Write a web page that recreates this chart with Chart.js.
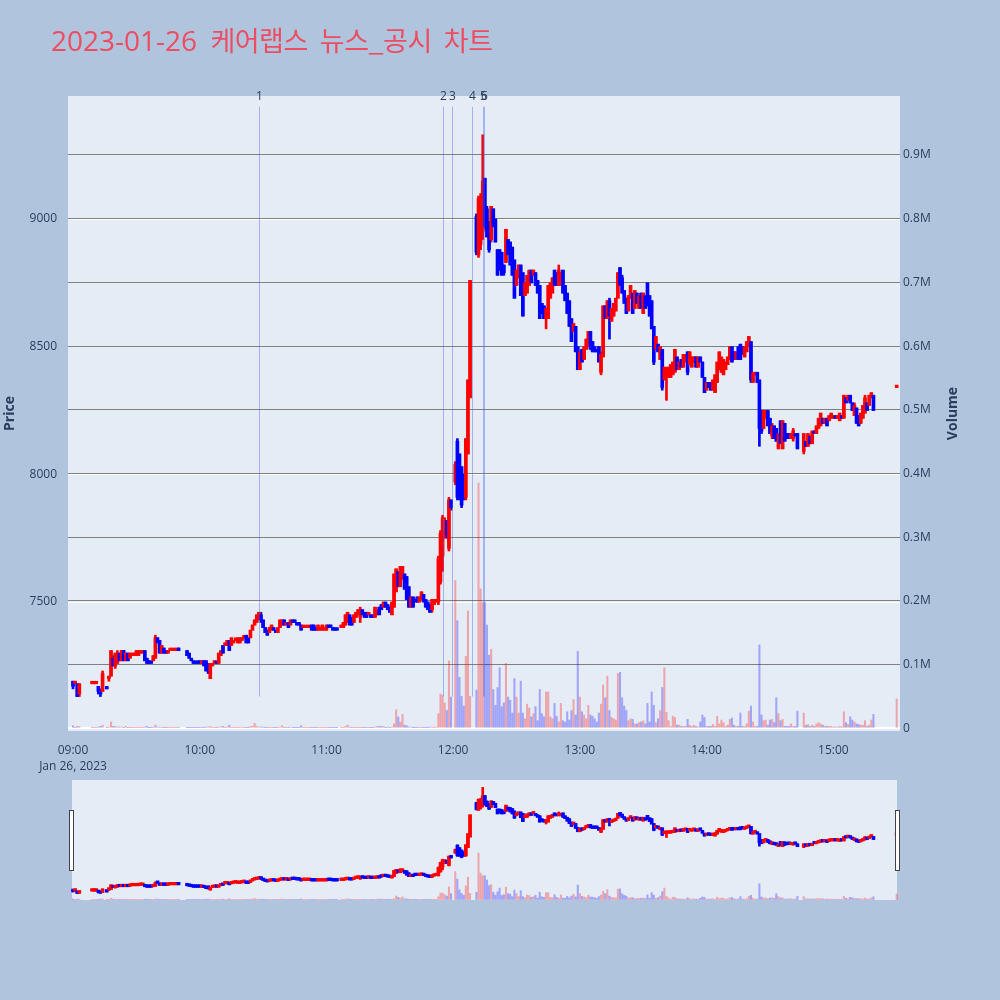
<!DOCTYPE html>
<html lang="ko">
<head>
<meta charset="utf-8">
<title>2023-01-26 케어랩스 뉴스_공시 차트</title>
<script src="https://cdn.jsdelivr.net/npm/chart.js@4.4.1/dist/chart.umd.min.js"></script>
<style>
html, body { margin:0; padding:0; background:#B0C4DE; }
body { width:1000px; height:1000px; position:relative; overflow:hidden; }
#mainWrap { position:absolute; left:0; top:0; width:1000px; height:775px; }
#sliderWrap { position:absolute; left:0; top:770px; width:1000px; height:140px; }
#title { position:absolute; left:51px; top:20px; color:rgb(236,77,97); white-space:nowrap; line-height:40px; }
#title .d { font-family:'Open Sans', sans-serif; font-size:28px; }
#title .k { font-family:'Noto Sans CJK KR', sans-serif; font-size:27px; letter-spacing:-0.5px; word-spacing:5px; margin-left:6px; }
</style>
</head>
<body>
<div id="mainWrap"><canvas id="main" width="1000" height="775"></canvas></div>
<div id="sliderWrap"><canvas id="slider" width="1000" height="140"></canvas></div>
<div id="title"><span class="d">2023-01-26 </span><span class="k">케어랩스 뉴스_공시 차트</span></div>
<script>
// ---------------- DATA (one entry per minute from 09:00; null = no trade) ----------------
const sessionStart = '09:00';
const opens = [
7190,7180,7180,7140,null,null,null,null,null,7180,
7180,7180,7170,7150,7150,null,7160,7200,7210,7280,
7250,7260,7300,7270,7310,7270,7300,7280,7290,7290,
7290,7290,7300,7300,7310,7280,7270,7260,7270,7280,
7360,7350,7300,7320,7310,7300,7310,7310,7310,7310,
7320,null,null,null,7310,7300,7280,7270,7260,7260,
7270,7260,7270,7270,7260,7200,7250,7260,7260,7260,
7290,7330,7330,7330,7350,7330,7340,7350,7340,7340,
7350,7360,7370,7360,7360,7390,7410,7420,7430,7450,
7430,7400,7390,7380,7390,7400,7390,7380,7400,7410,
7430,7410,7420,7410,7430,7430,7420,7420,7410,7400,
7400,7400,7400,7410,7410,7400,7390,7390,7390,7390,
7390,7410,7410,7400,7390,7390,null,7400,7400,7410,
7420,7450,7440,7420,7440,7450,7440,7470,7460,7460,
7450,7450,7440,7440,7450,7480,7490,7480,7500,7490,
7480,7450,7480,7540,7620,7560,7590,7610,7600,7560,
7480,7520,7510,7520,7500,7510,7530,7510,7500,7490,
7470,7490,7500,7500,7580,7680,7760,7820,7710,7900,
null,7970,8130,8080,8030,8000,7910,8080,8300,null,
null,9010,8860,8900,8950,9160,9040,8990,8920,9040,
9000,8880,8880,8870,8820,8830,8920,8910,8890,8840,
8740,8770,8820,8790,8700,8710,8740,8800,8780,8790,
8760,8740,8670,8660,8610,8610,8690,8710,8800,8790,
8740,8740,8800,8740,8710,8680,8610,8560,8580,8500,
8410,8490,8450,8490,8500,8560,8520,8500,8490,8500,
8400,8460,8660,8610,8680,8600,8620,8640,8690,8810,
8770,8720,8690,8640,8690,8710,8650,8710,8650,8710,
8630,8700,8750,8700,8680,8580,8490,8510,8450,8490,
8370,8380,8380,8380,8390,8400,8460,8410,8450,8420,
8440,8480,8430,8420,8440,8460,8420,8460,8440,8380,
8330,8360,8360,8330,8320,8360,8410,8400,8390,8410,
8430,8450,8500,8480,8450,8500,8510,8500,8460,8480,
8500,8520,8360,8390,8400,8370,8250,8180,8220,8250,
8220,8150,8190,8180,8100,8210,8100,8200,8160,8160,
8140,8140,8160,8160,null,null,8090,8130,8110,8150,
8120,8170,8160,8180,8190,8220,8200,8220,8210,8220,
8220,8230,8220,8210,8230,8220,8300,8290,8310,8280,
8230,8260,8230,8200,8220,8240,8280,8270,8300,8310,
null,null,null,null,null,null,null,null,null,null,
8340];
const highs = [
7190,7190,7180,7180,null,null,null,null,null,7180,
7180,7180,7170,7160,7230,null,7160,7210,7310,7290,
7300,7310,7300,7310,7310,7300,7300,7300,7300,7300,
7310,7310,7310,7310,7310,7280,7270,7260,7290,7370,
7360,7350,7330,7320,7310,7310,7310,7310,7310,7310,
7320,null,null,null,7310,7300,7280,7270,7260,7260,
7270,7270,7270,7270,7260,7260,7260,7270,7260,7300,
7310,7330,7340,7350,7350,7360,7350,7350,7360,7360,
7360,7360,7370,7360,7390,7410,7430,7450,7460,7460,
7430,7400,7390,7400,7410,7400,7390,7400,7430,7430,
7430,7420,7420,7430,7430,7430,7420,7420,7410,7400,
7400,7400,7400,7410,7410,7400,7410,7400,7410,7400,
7410,7410,7410,7400,7390,7390,null,7410,7420,7450,
7460,7450,7440,7450,7460,7470,7480,7470,7460,7460,
7460,7450,7440,7480,7470,7480,7490,7500,7500,7490,
7480,7500,7610,7630,7620,7640,7640,7610,7600,7560,
7520,7520,7510,7520,7520,7540,7530,7510,7500,7490,
7510,7510,7510,7680,7780,7840,7830,7820,7910,7900,
null,8050,8140,8080,8030,8000,8140,8370,8760,null,
null,9020,9090,9100,9330,9160,9050,8990,9050,9040,
9000,8880,8880,8870,8820,8960,8920,8910,8890,8840,
8800,8820,8820,8790,8750,8780,8800,8800,8800,8790,
8760,8740,8670,8660,8650,8740,8750,8770,8800,8790,
8820,8790,8800,8740,8710,8680,8610,8590,8580,8500,
8480,8490,8500,8530,8560,8560,8520,8500,8490,8500,
8480,8660,8660,8680,8690,8650,8670,8690,8790,8810,
8780,8720,8690,8700,8740,8710,8720,8710,8700,8710,
8710,8700,8750,8700,8680,8580,8540,8510,8500,8490,
8420,8420,8420,8430,8440,8490,8460,8440,8450,8470,
8470,8480,8480,8460,8460,8460,8460,8460,8440,8380,
8360,8360,8360,8370,8390,8440,8480,8460,8450,8440,
8460,8500,8500,8480,8480,8500,8510,8500,8500,8520,
8540,8520,8400,8400,8400,8370,8250,8250,8250,8250,
8220,8200,8190,8180,8160,8210,8210,8200,8160,8160,
8160,8180,8160,8160,null,null,8160,8130,8160,8150,
8170,8170,8190,8220,8240,8220,8220,8220,8230,8240,
8230,8230,8230,8240,8230,8310,8300,8310,8310,8280,
8280,8260,8230,8240,8270,8310,8280,8310,8320,8310,
null,null,null,null,null,null,null,null,null,null,
8340];
const lows = [
7160,7180,7130,7130,null,null,null,null,null,7180,
7180,7180,7140,7130,7150,null,7160,7190,7210,7250,
7240,7260,7270,7270,7270,7270,7270,7280,7290,7290,
7290,7290,7300,7300,7270,7260,7260,7260,7270,7280,
7340,7300,7300,7300,7300,7300,7310,7310,7310,7310,
7310,null,null,null,7290,7280,7270,7260,7260,7260,
7260,7260,7250,7230,7220,7200,7250,7260,7260,7260,
7290,7300,7330,7330,7310,7330,7340,7350,7340,7340,
7350,7360,7340,7340,7360,7390,7410,7420,7430,7420,
7400,7380,7370,7380,7390,7390,7380,7380,7400,7410,
7410,7410,7400,7410,7420,7420,7410,7410,7390,7400,
7400,7400,7400,7390,7390,7390,7390,7390,7390,7390,
7390,7400,7400,7390,7390,7390,null,7400,7400,7410,
7420,7410,7410,7420,7440,7450,7420,7450,7440,7440,
7450,7440,7440,7440,7450,7450,7470,7480,7480,7470,
7460,7450,7480,7540,7560,7560,7590,7550,7510,7480,
7480,7480,7500,7500,7500,7510,7500,7480,7470,7460,
7460,7490,7500,7490,7570,7620,7750,7750,7700,7860,
null,7960,7900,7900,7870,7900,7900,8080,8300,null,
null,8860,8850,8880,8920,8960,8930,8870,8910,8970,
8910,8780,8800,8780,8780,8830,8860,8820,8780,8690,
8740,8770,8700,8620,8700,8710,8740,8750,8780,8740,
8710,8610,8630,8610,8570,8610,8690,8710,8740,8740,
8740,8740,8710,8680,8630,8580,8520,8560,8480,8410,
8410,8440,8450,8490,8500,8490,8480,8480,8480,8440,
8390,8460,8610,8610,8530,8600,8620,8640,8690,8740,
8710,8670,8630,8640,8690,8630,8650,8670,8650,8650,
8630,8650,8660,8620,8570,8430,8490,8480,8450,8330,
8370,8290,8380,8380,8390,8400,8410,8410,8420,8420,
8440,8390,8430,8420,8440,8420,8420,8440,8380,8320,
8330,8340,8330,8330,8320,8360,8410,8400,8390,8410,
8430,8450,8440,8450,8450,8450,8450,8470,8460,8480,
8500,8360,8360,8390,8360,8110,8160,8180,8220,8190,
8160,8140,8140,8130,8100,8120,8100,8130,8140,8140,
8140,8130,8150,8100,null,null,8080,8110,8110,8120,
8120,8160,8160,8180,8190,8200,8200,8190,8210,8220,
8220,8220,8220,8210,8220,8220,8280,8290,8280,8250,
8230,8200,8190,8200,8220,8240,8250,8270,8300,8250,
null,null,null,null,null,null,null,null,null,null,
8340];
const closes = [
7170,7190,7130,7180,null,null,null,null,null,7180,
7180,7180,7150,7140,7220,null,7160,7210,7310,7250,
7300,7300,7270,7310,7270,7300,7270,7300,7300,7300,
7310,7310,7310,7310,7270,7260,7260,7260,7290,7360,
7340,7300,7330,7300,7300,7310,7310,7310,7310,7310,
7310,null,null,null,7290,7280,7270,7260,7260,7260,
7260,7270,7250,7230,7240,7260,7260,7270,7260,7300,
7310,7300,7340,7350,7310,7360,7350,7350,7360,7360,
7360,7360,7340,7340,7390,7410,7430,7450,7460,7430,
7400,7380,7370,7400,7410,7390,7380,7400,7430,7430,
7410,7420,7400,7430,7420,7420,7410,7410,7390,7400,
7400,7400,7400,7390,7390,7390,7410,7400,7410,7400,
7410,7400,7400,7390,7390,7390,null,7410,7420,7450,
7460,7410,7410,7450,7460,7470,7470,7450,7440,7440,
7460,7440,7440,7480,7470,7450,7470,7500,7480,7470,
7460,7500,7610,7630,7560,7640,7640,7550,7510,7480,
7520,7480,7500,7500,7520,7540,7500,7480,7470,7460,
7510,7510,7510,7670,7770,7830,7820,7760,7900,7870,
null,8040,7910,7910,7880,7910,8140,8370,8760,null,
null,8870,9080,9050,9150,8970,8930,8880,9050,8970,
8910,8780,8800,8780,8790,8960,8860,8820,8780,8690,
8800,8820,8700,8620,8750,8780,8800,8750,8800,8740,
8710,8610,8630,8610,8650,8740,8750,8770,8740,8740,
8800,8790,8710,8680,8630,8580,8520,8590,8480,8410,
8480,8440,8500,8530,8560,8490,8480,8480,8480,8440,
8470,8660,8610,8680,8620,8650,8670,8690,8790,8740,
8710,8670,8630,8700,8740,8630,8720,8670,8700,8650,
8710,8650,8660,8620,8570,8440,8540,8480,8500,8340,
8420,8410,8420,8430,8440,8490,8410,8440,8420,8470,
8470,8400,8480,8460,8460,8420,8460,8440,8380,8320,
8360,8340,8330,8370,8390,8440,8480,8460,8450,8440,
8460,8500,8440,8450,8480,8450,8450,8470,8500,8520,
8540,8370,8400,8400,8360,8180,8170,8250,8250,8190,
8160,8190,8140,8130,8160,8120,8210,8130,8140,8150,
8160,8170,8150,8100,null,null,8160,8110,8160,8120,
8170,8160,8190,8220,8240,8200,8220,8190,8230,8240,
8230,8220,8230,8240,8220,8310,8280,8310,8280,8250,
8270,8200,8190,8240,8270,8300,8250,8310,8320,8250,
null,null,null,null,null,null,null,null,null,null,
8340];
// volume per minute, in thousands of shares
const volumesK = [
4,1,3,3,null,null,null,null,null,1,
1,1,2,3,5,null,1,2,10,3,
3,2,2,2,1,3,1,1,1,1,
1,1,1,1,2,3,1,1,1,5,
2,2,1,1,1,1,1,1,1,1,
1,null,null,null,1,1,1,1,1,1,
1,1,1,2,2,3,1,1,1,2,
2,3,1,2,5,1,1,1,1,1,
2,1,1,1,3,3,8,3,2,2,
2,1,1,1,1,1,1,1,2,4,
1,1,1,2,1,1,1,1,4,1,
1,1,1,1,1,1,1,1,1,1,
1,1,1,1,1,1,null,1,1,3,
5,2,1,1,1,1,1,1,1,1,
1,1,1,2,3,3,3,3,1,2,
1,2,7,29,18,10,22,5,4,2,
2,1,1,1,1,1,1,1,1,2,
2,1,2,23,54,52,40,28,106,49,
null,232,169,80,50,35,113,184,50,null,
null,60,385,219,198,198,162,115,124,61,
36,64,95,34,40,102,49,44,24,78,
49,24,74,24,15,38,32,18,23,34,
12,61,23,18,57,57,18,15,39,19,
10,39,12,10,26,13,28,45,21,121,
49,26,21,15,36,21,19,15,10,24,
38,68,48,82,28,17,15,13,86,88,
48,35,28,12,15,14,7,7,9,10,
12,7,39,10,57,36,9,15,28,64,
95,25,12,3,19,17,5,5,3,3,
3,14,5,3,5,3,2,10,21,17,
3,3,3,6,3,19,7,13,9,3,
5,14,16,5,3,3,24,3,3,7,
27,35,10,3,3,131,21,12,13,5,
13,14,9,48,23,12,14,3,3,3,
7,3,3,27,null,null,24,5,6,3,
5,3,7,9,7,5,3,3,3,3,
2,2,2,3,2,26,9,6,18,13,
10,7,6,5,5,12,3,5,13,22,
null,null,null,null,null,null,null,null,null,null,
46];

// news / disclosure events
const newsTimes  = ['10:27:50', '11:55:10', '11:59:35', '12:08:50', '12:14:15', '12:14:35'];
const newsLabels = ['1', '2', '3', '4', '5', '6'];
const newsLineTop = 9440;

// axis tick labels
const timeTicks  = ['09:00', '10:00', '11:00', '12:00', '13:00', '14:00', '15:00'];
const dateLabel  = 'Jan 26, 2023';
const priceTicks = [7500, 8000, 8500, 9000];
const volumeTicksK = [0, 100, 200, 300, 400, 500, 600, 700, 800, 900];

// ---------------- helpers ----------------
const startMin = (() => { const p = sessionStart.split(':').map(Number); return p[0] * 60 + p[1]; })();
function toMin(t) { const p = t.split(':').map(Number); return p[0] * 60 + p[1] + (p[2] || 0) / 60 - startMin; }
function fmt(m) { const t = Math.round(startMin + m); return String(Math.floor(t / 60)).padStart(2, '0') + ':' + String(t % 60).padStart(2, '0'); }
const times = opens.map((_, i) => fmt(i));

const X_MIN = -2.37, X_MAX = 391.57;
const P_MIN = 6995, P_MAX = 9482;
const V_MIN = -4.2, V_MAX = 992.6;

const UP = '#FF0000', DOWN = '#0000FF';
const UPV = 'rgba(255,0,0,0.3)', DOWNV = 'rgba(0,0,255,0.3)';

// Plotly-style direction: equal open/close compares with previous close
const isUp = [];
(function () {
  let prevC = null, inc = true;
  for (let i = 0; i < opens.length; i++) {
    const o = opens[i], c = closes[i];
    if (c == null || o == null) { isUp.push(null); continue; }
    if (c === o) { if (prevC !== null && c !== prevC) inc = c > prevC; }
    else inc = c > o;
    prevC = c;
    isUp.push(inc);
  }
})();
const idx = opens.map((_, i) => i).filter(i => opens[i] != null);
const vidx = idx.filter(i => volumesK[i] != null);

function buildDatasets() {
  return [
    { label: 'Volume', yAxisID: 'yv', stack: 'c', order: 2, barThickness: 1.4,
      data: vidx.map(i => ({ x: toMin(times[i]), y: volumesK[i] })),
      backgroundColor: vidx.map(i => isUp[i] ? UPV : DOWNV) },
    { label: 'Wick', yAxisID: 'y', stack: 'c', order: 1, barThickness: 2,
      data: idx.map(i => ({ x: toMin(times[i]), y: [lows[i], highs[i]] })),
      backgroundColor: idx.map(i => isUp[i] ? UP : DOWN) },
    { label: 'Body', yAxisID: 'y', stack: 'c', order: 0, barThickness: 3, minBarLength: 2.5,
      data: idx.map(i => ({ x: toMin(times[i]), y: [opens[i], closes[i]] })),
      backgroundColor: idx.map(i => isUp[i] ? UP : DOWN) }
  ];
}

Chart.defaults.font.family = "'Open Sans', 'Noto Sans CJK KR', sans-serif";
Chart.defaults.font.size = 12;
Chart.defaults.color = '#2a3f5f';

const mainPlugin = {
  id: 'mainDeco',
  beforeDraw(chart) {
    const { ctx, chartArea: a } = chart;
    ctx.save();
    ctx.fillStyle = '#E5ECF6';
    ctx.fillRect(a.left, a.top, a.right - a.left, a.bottom - a.top);
    ctx.restore();
  },
  afterDatasetsDraw(chart) {
    const { ctx, scales } = chart;
    const yTop = scales.y.getPixelForValue(newsLineTop);
    const yBot = scales.y.getPixelForValue(Math.min(...lows.filter(v => v != null)));
    ctx.save();
    ctx.strokeStyle = 'rgba(65,105,225,0.42)';
    ctx.lineWidth = 1;
    ctx.fillStyle = '#2a3f5f';
    ctx.font = "12px 'Open Sans', sans-serif";
    ctx.textAlign = 'center';
    ctx.textBaseline = 'middle';
    newsTimes.forEach((t, k) => {
      const x = Math.round(scales.x.getPixelForValue(toMin(t))) + 0.5;
      ctx.beginPath();
      ctx.moveTo(x, yTop);
      ctx.lineTo(x, yBot);
      ctx.stroke();
      ctx.fillText(newsLabels[k], x, yTop - 10);
    });
    ctx.restore();
  },
  afterDraw(chart) {
    const { ctx, chartArea: a } = chart;
    const cy = (a.top + a.bottom) / 2;
    [['Price', 10], ['Volume', 953]].forEach(([txt, x]) => {
      ctx.save();
      ctx.fillStyle = '#2a3f5f';
      ctx.font = "bold 14px 'Open Sans', sans-serif";
      ctx.textAlign = 'center';
      ctx.textBaseline = 'middle';
      ctx.translate(x, cy); ctx.rotate(-Math.PI / 2); ctx.fillText(txt, 0, 0);
      ctx.restore();
    });
  }
};

new Chart(document.getElementById('main'), {
  type: 'bar',
  data: { datasets: buildDatasets() },
  options: {
    responsive: false, animation: false, events: [],
    layout: { padding: { top: 96, left: 0, right: 0, bottom: 0 } },
    plugins: { legend: { display: false }, tooltip: { enabled: false } },
    scales: {
      x: {
        type: 'linear', min: X_MIN, max: X_MAX, offset: false,
        grid: { display: false }, border: { display: false },
        afterBuildTicks: s => { s.ticks = timeTicks.map(t => ({ value: toMin(t) })); },
        afterFit: s => { s.height = 44; },
        ticks: { autoSkip: false, maxRotation: 0, padding: 3, font: { size: 12, lineHeight: 1.35 },
          callback: v => (v === 0 ? [fmt(v), dateLabel] : fmt(v)) }
      },
      y: {
        position: 'left', min: P_MIN, max: P_MAX, stacked: false,
        grid: { color: '#ffffff', lineWidth: 1, drawTicks: false }, border: { display: false },
        afterBuildTicks: s => { s.ticks = priceTicks.map(v => ({ value: v })); },
        afterFit: s => { s.width = 68; },
        ticks: { padding: 11, callback: v => String(v) }
      },
      yv: {
        position: 'right', min: V_MIN, max: V_MAX, stacked: false,
        grid: { color: c => (c.tick && c.tick.value === 0 ? '#ffffff' : 'rgb(128,128,128)'),
                lineWidth: c => (c.tick && c.tick.value === 0 ? 2 : 1), drawTicks: false },
        border: { display: false },
        afterBuildTicks: s => { s.ticks = volumeTicksK.map(v => ({ value: v })); },
        afterFit: s => { s.width = 100; },
        ticks: { padding: 3, callback: v => (v === 0 ? '0' : (v / 1000).toFixed(1) + 'M') }
      }
    }
  },
  plugins: [mainPlugin]
});

const sliderPlugin = {
  id: 'sliderDeco',
  beforeDraw(chart) {
    const { ctx, chartArea: a } = chart;
    ctx.save();
    ctx.fillStyle = '#E5ECF6';
    ctx.fillRect(a.left + 4, a.top, (a.right - 3) - (a.left + 4), a.bottom - a.top);
    ctx.restore();
  },
  afterDraw(chart) {
    const { ctx, chartArea: a } = chart;
    ctx.save();
    ctx.fillStyle = '#ffffff';
    ctx.strokeStyle = '#444444';
    ctx.lineWidth = 1;
    const hTop = a.top + 30.5, hH = 60;
    ctx.fillRect(a.left + 1.5, hTop, 4, hH); ctx.strokeRect(a.left + 1.5, hTop, 4, hH);
    ctx.fillRect(a.right - 4.5, hTop, 4, hH); ctx.strokeRect(a.right - 4.5, hTop, 4, hH);
    ctx.restore();
  }
};

new Chart(document.getElementById('slider'), {
  type: 'bar',
  data: { datasets: buildDatasets() },
  options: {
    responsive: false, animation: false, events: [],
    layout: { padding: { top: 10, left: 68, right: 100, bottom: 10 } },
    plugins: { legend: { display: false }, tooltip: { enabled: false } },
    scales: {
      x: { type: 'linear', min: X_MIN, max: X_MAX, offset: false, display: false },
      y: { min: P_MIN, max: P_MAX, display: false, stacked: false },
      yv: { min: V_MIN, max: V_MAX, display: false, stacked: false }
    }
  },
  plugins: [sliderPlugin]
});
</script>
</body>
</html>
